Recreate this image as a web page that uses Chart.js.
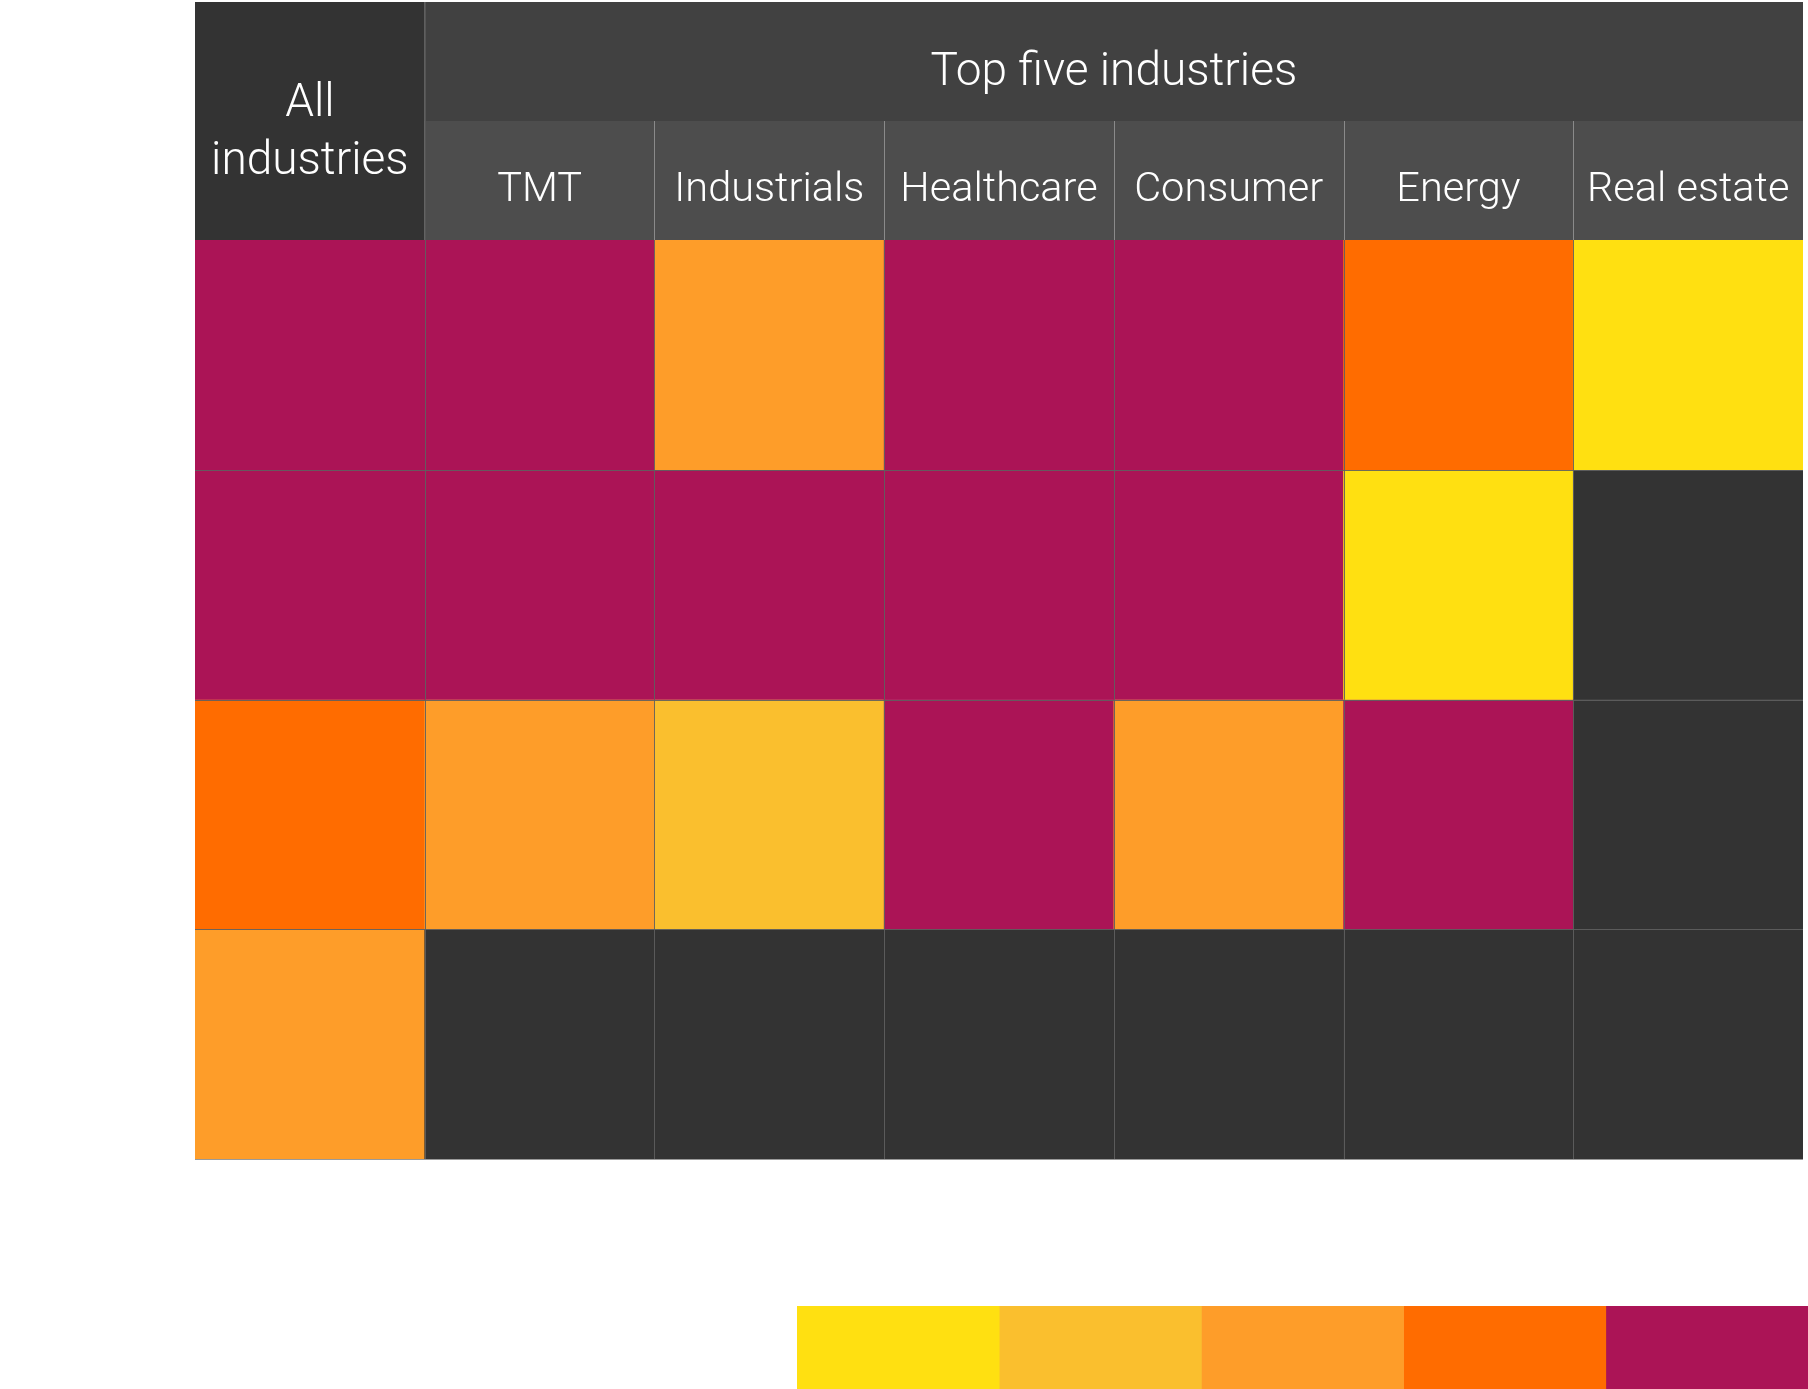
<!DOCTYPE html>
<html>
<head>
<meta charset="utf-8">
<script src="https://cdn.jsdelivr.net/npm/chart.js@4.4.1/dist/chart.umd.min.js"></script>
<style>
    html, body { margin: 0; padding: 0; background: #fff; overflow: hidden; }
    #wrap { position: relative; width: 1808px; height: 1389px; }
    #heatmap { position: absolute; left: 0; top: 0; }
    #scale { position: absolute; left: 797px; top: 1306px; }
</style>
</head>
<body>
<div id="wrap">
    <canvas id="heatmap" width="1808" height="1389"></canvas>
    <canvas id="scale" width="1011" height="83"></canvas>
</div>
<script>
// columns of the table
const columns = ['All industries', 'TMT', 'Industrials', 'Healthcare', 'Consumer', 'Energy', 'Real estate'];
const topHeader = 'Top five industries';

// level of each cell, 1 = yellow ... 5 = magenta, 0 = no data
const row1 = [5, 5, 3, 5, 5, 4, 1];
const row2 = [5, 5, 5, 5, 5, 1, 0];
const row3 = [4, 3, 2, 5, 3, 5, 0];
const row4 = [3, 0, 0, 0, 0, 0, 0];
const rows = [row1, row2, row3, row4];

// colour for each level (index 0 = empty cell)
const levelColors = ['#333333', '#FFE011', '#FABF2E', '#FE9D29', '#FF6C00', '#AB1456'];
const legendLevels = [1, 2, 3, 4, 5];

const FONT = 'Roboto, "Liberation Sans", Arial, sans-serif';

const tableFrame = {
    id: 'tableFrame',
    afterDatasetsDraw(chart) {
        const ctx = chart.ctx;
        const xs = chart.scales.x;
        const ys = chart.scales.y;
        const half = (xs.getPixelForValue(1) - xs.getPixelForValue(0)) / 2;
        const top = ys.getPixelForValue(0);
        const bottom = ys.getPixelForValue(rows.length);
        const left = xs.getPixelForValue(0) - half;
        const right = xs.getPixelForValue(columns.length - 1) + half;

        ctx.save();
        ctx.strokeStyle = 'rgba(95,95,95,0.9)';
        ctx.lineWidth = 1;
        for (let i = 1; i < columns.length; i++) {
            const x = Math.round(xs.getPixelForValue(i) - half) + 0.5;
            ctx.beginPath();
            ctx.moveTo(x, top);
            ctx.lineTo(x, bottom);
            ctx.stroke();
        }
        for (let r = 1; r < rows.length; r++) {
            const y = Math.round(ys.getPixelForValue(r)) + 0.5;
            ctx.beginPath();
            ctx.moveTo(left, y);
            ctx.lineTo(right, y);
            ctx.stroke();
        }
        // bottom edge
        ctx.strokeStyle = '#9a9a9a';
        ctx.beginPath();
        ctx.moveTo(left, Math.round(bottom) + 0.5);
        ctx.lineTo(right, Math.round(bottom) + 0.5);
        ctx.stroke();
        ctx.restore();
    },
    afterDraw(chart) {
        const ctx = chart.ctx;
        const xs = chart.scales.x;
        const area = chart.chartArea;
        const half = (xs.getPixelForValue(1) - xs.getPixelForValue(0)) / 2;
        const headTop = area.top - 238;
        const headMid = area.top - 119;

        ctx.save();
        // all industries header
        const c0l = xs.getPixelForValue(0) - half;
        const c0r = xs.getPixelForValue(0) + half;
        ctx.fillStyle = '#333333';
        ctx.fillRect(c0l, headTop, c0r - c0l, area.top - headTop);

        // top five band
        const c1l = xs.getPixelForValue(1) - half;
        const cEnd = xs.getPixelForValue(columns.length - 1) + half;
        ctx.fillStyle = '#414141';
        ctx.fillRect(c1l, headTop, cEnd - c1l, headMid - headTop);
        ctx.fillStyle = '#4D4D4D';
        ctx.fillRect(c1l, headMid, cEnd - c1l, area.top - headMid);

        // separators
        ctx.strokeStyle = '#555555';
        ctx.lineWidth = 1;
        ctx.beginPath();
        ctx.moveTo(Math.round(c1l) + 0.5, headTop);
        ctx.lineTo(Math.round(c1l) + 0.5, area.top);
        ctx.stroke();
        ctx.strokeStyle = '#8a8a8a';
        for (let i = 2; i < columns.length; i++) {
            const x = Math.round(xs.getPixelForValue(i) - half) + 0.5;
            ctx.beginPath();
            ctx.moveTo(x, headMid);
            ctx.lineTo(x, area.top);
            ctx.stroke();
        }

        ctx.fillStyle = '#ffffff';
        ctx.textAlign = 'center';
        ctx.textBaseline = 'alphabetic';

        ctx.font = '300 46px ' + FONT;
        const words = columns[0].split(' ');
        ctx.fillText(words[0], xs.getPixelForValue(0), headTop + 114);
        ctx.fillText(words[1], xs.getPixelForValue(0), headTop + 172);

        ctx.font = '300 46px ' + FONT;
        ctx.fillText(topHeader, (c1l + cEnd) / 2, headTop + 83);

        ctx.font = '300 41.5px ' + FONT;
        for (let i = 1; i < columns.length; i++) {
            ctx.fillText(columns[i], xs.getPixelForValue(i), area.top - 39);
        }
        ctx.restore();
    }
};

new Chart(document.getElementById('heatmap'), {
    type: 'bar',
    data: {
        labels: columns,
        datasets: rows.map(function(row, r) {
            return {
                label: 'Row ' + (r + 1),
                data: row.map(function() { return 1; }),
                backgroundColor: row.map(function(v) { return levelColors[v]; }),
                borderWidth: 0,
                categoryPercentage: 1,
                barPercentage: 1
            };
        })
    },
    options: {
        responsive: false,
        animation: false,
        layout: { padding: { left: 195, right: 5, top: 240, bottom: 230 } },
        scales: {
            x: { stacked: true, display: false, offset: true },
            y: { stacked: true, display: false, reverse: true, min: 0, max: rows.length }
        },
        plugins: {
            legend: { display: false },
            tooltip: { enabled: false }
        }
    },
    plugins: [tableFrame]
});

// colour scale below the table
new Chart(document.getElementById('scale'), {
    type: 'bar',
    data: {
        labels: ['scale'],
        datasets: legendLevels.map(function(v) {
            return {
                label: 'Level ' + v,
                data: [1],
                backgroundColor: levelColors[v],
                borderWidth: 0,
                categoryPercentage: 1,
                barPercentage: 1
            };
        })
    },
    options: {
        indexAxis: 'y',
        responsive: false,
        animation: false,
        layout: { padding: 0 },
        scales: {
            x: { stacked: true, display: false, min: 0, max: legendLevels.length },
            y: { stacked: true, display: false }
        },
        plugins: {
            legend: { display: false },
            tooltip: { enabled: false }
        }
    }
});
</script>
</body>
</html>
